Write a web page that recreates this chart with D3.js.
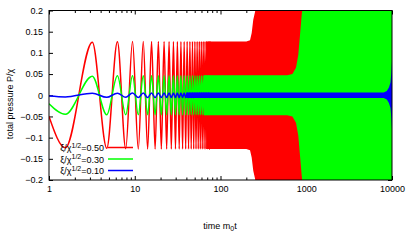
<!DOCTYPE html>
<html>
<head>
<meta charset="utf-8">
<script src="https://cdn.jsdelivr.net/npm/d3@7"></script>
<style>
  body { margin: 0; background: #fff; }
  text { font-family: "Liberation Sans", Arial, sans-serif; }
</style>
</head>
<body>
<div id="chart"></div>
<script>
// tick labels
var xMajor = [1, 10, 100, 1000, 10000];
var yTicks = [-0.2, -0.15, -0.1, -0.05, 0, 0.05, 0.1, 0.15, 0.2];

// legend
var seriesNames = ["0.50", "0.30", "0.10"];
var seriesColors = ["#ff0000", "#00ff00", "#0000ff"];

// turning points of the resolved oscillation (time m0t)
var turnT = [1, 1.55, 3.2, 4.72, 6.28, 7.85, 9.42, 11.0, 12.57, 14.14, 15.71, 17.28, 18.85,
  20.42, 21.99, 23.56, 25.13, 26.7, 28.27, 29.85, 31.42, 33.0, 34.56, 36.13, 37.7,
  39.27, 40.84, 42.41, 43.98, 45.55, 47.12, 48.7, 50.27, 51.84, 53.4, 55.0, 56.55,
  58.1, 59.7, 61.26, 62.83, 64.4, 65.97, 67.54, 69.1, 70.7, 72.26, 73.83, 75.4];

var redVals = [-0.05, -0.124, 0.125, -0.125, 0.126, -0.126, 0.127, -0.127, 0.127, -0.127,
  0.127, -0.127, 0.127, -0.127, 0.127, -0.127, 0.127, -0.127, 0.127, -0.127, 0.127,
  -0.127, 0.127, -0.127, 0.127, -0.127, 0.127, -0.127, 0.127, -0.127, 0.127, -0.127,
  0.127, -0.127, 0.127, -0.127, 0.127, -0.127, 0.127, -0.127, 0.127,
  -0.127, 0.127, -0.127, 0.127, -0.127, 0.127, -0.127, 0.127];
var greenVals = [-0.02, -0.045, 0.045, -0.046, 0.046, -0.046, 0.046, -0.046, 0.046, -0.046,
  0.046, -0.046, 0.046, -0.046, 0.046, -0.046, 0.046, -0.046, 0.046, -0.046, 0.046,
  -0.046, 0.046, -0.046, 0.046, -0.046, 0.046, -0.046, 0.046, -0.046, 0.046, -0.046,
  0.046, -0.046, 0.046, -0.046, 0.046, -0.046, 0.046, -0.046, 0.046,
  -0.046, 0.046, -0.046, 0.046, -0.046, 0.046, -0.046, 0.046];
var blueVals = [-0.002, -0.004, 0.005, -0.005, 0.005, -0.005, 0.0055, -0.0055, 0.0055, -0.0055,
  0.0055, -0.0055, 0.0055, -0.0055, 0.0055, -0.0055, 0.0055, -0.0055, 0.0055, -0.0055, 0.0055,
  -0.0055, 0.0055, -0.0055, 0.0055, -0.0055, 0.0055, -0.0055, 0.0055, -0.0055, 0.0055, -0.0055,
  0.0055, -0.0055, 0.0055, -0.0055, 0.0055, -0.0055, 0.0055, -0.0055, 0.0055,
  -0.0055, 0.0055, -0.0055, 0.0055, -0.0055, 0.0055, -0.0055, 0.0055];

// envelope of the unresolved (dense) oscillation: [time, amplitude]
var redEnv = [[68, 0.127], [200, 0.127], [221, 0.13], [231, 0.147], [241, 0.178],
  [253, 0.197], [262, 0.22], [280, 0.3], [10000, 0.3]];
var greenEnv = [[64, 0.047], [600, 0.047], [690, 0.05], [759, 0.065], [807, 0.095],
  [846, 0.143], [885, 0.19], [910, 0.21], [950, 0.3], [10000, 0.3]];
var blueEnv = [[40, 0.0065], [8000, 0.0065], [8700, 0.01], [9200, 0.018], [9600, 0.03],
  [9850, 0.055], [10000, 0.08]];

var svgWidth = 407;
var svgHeight = 244;
var plot = { left: 49, right: 392, top: 10.5, bottom: 180 };

var svg = d3.select("#chart").append("svg")
  .attr("width", svgWidth)
  .attr("height", svgHeight);

var x = d3.scaleLog().domain([1, 10000]).range([plot.left, plot.right]);
var y = d3.scaleLinear().domain([-0.2, 0.2]).range([plot.bottom, plot.top]);

// minor log ticks 2..9 per decade
var xMinor = [];
xMajor.slice(0, -1).forEach(function(d) {
  for (var k = 2; k < 10; k++) xMinor.push(d * k);
});

// ticks (drawn under the data, like gnuplot)
function styleAxis(g) {
  g.select(".domain").remove();
  g.selectAll(".tick line").attr("stroke", "#000").attr("stroke-width", 1);
  g.selectAll("text").attr("font-size", "9px").attr("fill", "#000");
}
svg.append("g")
  .attr("transform", "translate(0," + plot.bottom + ")")
  .call(d3.axisBottom(x).tickValues(xMajor).tickFormat(d3.format("d")).tickSize(-4).tickPadding(6))
  .call(styleAxis);
svg.append("g")
  .attr("transform", "translate(0," + plot.bottom + ")")
  .call(d3.axisBottom(x).tickValues(xMinor).tickFormat("").tickSize(-2.5))
  .call(styleAxis);
svg.append("g")
  .attr("transform", "translate(0," + plot.top + ")")
  .call(d3.axisTop(x).tickValues(xMajor).tickFormat("").tickSize(-4))
  .call(styleAxis);
svg.append("g")
  .attr("transform", "translate(0," + plot.top + ")")
  .call(d3.axisTop(x).tickValues(xMinor).tickFormat("").tickSize(-2.5))
  .call(styleAxis);
svg.append("g")
  .attr("transform", "translate(" + plot.left + ",0)")
  .call(d3.axisLeft(y).tickValues(yTicks).tickFormat(d3.format("")).tickSize(-4).tickPadding(6))
  .call(styleAxis);
svg.append("g")
  .attr("transform", "translate(" + plot.right + ",0)")
  .call(d3.axisRight(y).tickValues(yTicks).tickFormat("").tickSize(-4))
  .call(styleAxis);

// clip
svg.append("clipPath").attr("id", "clip")
  .append("rect")
  .attr("x", plot.left).attr("y", plot.top)
  .attr("width", plot.right - plot.left).attr("height", plot.bottom - plot.top);

var data = svg.append("g").attr("clip-path", "url(#clip)");

var line = d3.line()
  .x(function(d) { return x(d[0]); })
  .y(function(d) { return y(d[1]); })
  .curve(d3.curveMonotoneX);

var band = d3.area()
  .x(function(d) { return x(d[0]); })
  .y0(function(d) { return y(-d[1]); })
  .y1(function(d) { return y(d[1]); });

var allVals = [redVals, greenVals, blueVals];
var allEnv = [redEnv, greenEnv, blueEnv];

allVals.forEach(function(vals, i) {
  var pts = turnT.map(function(t, j) { return [t, vals[j]]; });
  data.append("path")
    .datum(allEnv[i])
    .attr("d", band)
    .attr("fill", seriesColors[i]);
  data.append("path")
    .datum(pts)
    .attr("d", line)
    .attr("fill", "none")
    .attr("stroke", seriesColors[i])
    .attr("stroke-width", 1.5);
});

// frame
svg.append("rect")
  .attr("x", plot.left).attr("y", plot.top)
  .attr("width", plot.right - plot.left).attr("height", plot.bottom - plot.top)
  .attr("fill", "none")
  .attr("stroke", "#000")
  .attr("stroke-width", 1);

// legend
var legendY = [147.5, 159, 170.5];
seriesNames.forEach(function(name, i) {
  var t = svg.append("text")
    .attr("x", 104)
    .attr("y", legendY[i] + 3.5)
    .attr("text-anchor", "end")
    .attr("font-size", "9px")
    .attr("fill", "#000");
  t.append("tspan").text("ξ/χ");
  t.append("tspan").attr("dy", -3.5).attr("font-size", "7px").text("1/2");
  t.append("tspan").attr("dy", 3.5).text("=" + name);
  svg.append("line")
    .attr("x1", 108).attr("x2", 133)
    .attr("y1", legendY[i]).attr("y2", legendY[i])
    .attr("stroke", seriesColors[i])
    .attr("stroke-width", 1.5);
});

// axis titles
var xt = svg.append("text")
  .attr("x", 220)
  .attr("y", 229)
  .attr("text-anchor", "middle")
  .attr("font-size", "9px")
  .attr("fill", "#000");
xt.append("tspan").text("time m");
xt.append("tspan").attr("dy", 2).attr("font-size", "7px").text("0");
xt.append("tspan").attr("dy", -2).text("t");

svg.append("text")
  .attr("transform", "translate(13,104) rotate(-90)")
  .attr("text-anchor", "middle")
  .attr("font-size", "9px")
  .attr("fill", "#000")
  .text("total pressure P/χ");
</script>
</body>
</html>
